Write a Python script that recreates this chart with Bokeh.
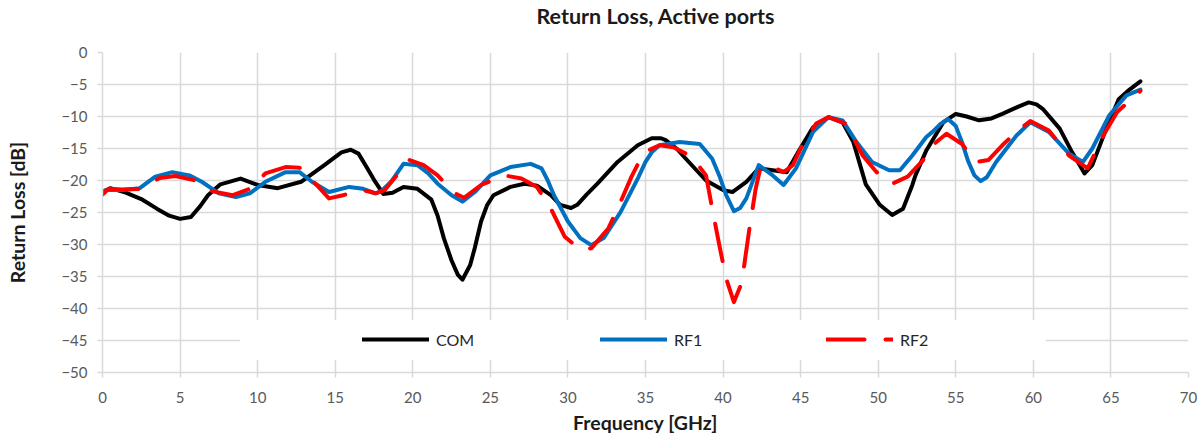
from bokeh.plotting import figure
from bokeh.models import (Range1d, FixedTicker, Legend, LegendItem, BoxAnnotation, Title)
from bokeh.embed import file_html
from bokeh.resources import INLINE

# ---------------- data ----------------
com_f = [0.0, 0.5, 1.5, 2.5, 3.5, 4.3, 5.0, 5.7, 6.3, 6.8, 7.6, 8.9, 10.0, 11.3, 12.8,
         14.3, 15.4, 16.0, 16.5, 17.0, 17.5, 18.1, 18.7, 19.4, 20.3, 21.2, 21.6, 22.0,
         22.5, 22.9, 23.2, 23.7, 24.0, 24.4, 24.8, 25.2, 26.3, 27.2, 28.0, 28.9, 29.5,
         30.2, 30.6, 31.2, 31.9, 33.2, 34.5, 35.4, 36.0, 36.3, 37.0, 37.6, 38.9, 40.0,
         40.6, 41.5, 42.3, 43.2, 44.1, 44.9, 45.8, 46.8, 47.7, 48.4, 49.2, 50.1, 50.9,
         51.6, 52.2, 52.4, 53.1, 54.2, 55.0, 55.7, 56.5, 57.3, 58.0, 59.0, 59.7, 60.2,
         60.6, 61.7, 62.5, 63.3, 63.8, 64.7, 65.5, 66.2, 66.9]
com_db = [-21.8, -21.2, -21.9, -22.9, -24.4, -25.5, -26.0, -25.7, -24.0, -22.3, -20.6,
          -19.7, -20.7, -21.2, -20.2, -17.6, -15.6, -15.2, -15.8, -17.8, -19.9, -22.1,
          -21.9, -21.0, -21.3, -23.0, -25.5, -29.0, -32.5, -34.7, -35.5, -33.2, -30.5,
          -26.4, -23.8, -22.3, -21.0, -20.5, -20.8, -22.3, -23.8, -24.3, -23.8, -22.2,
          -20.5, -17.1, -14.5, -13.4, -13.4, -13.7, -15.0, -16.6, -20.0, -21.5, -21.8,
          -20.2, -18.1, -18.4, -18.7, -15.3, -11.7, -10.1, -10.9, -14.0, -20.6, -23.8,
          -25.4, -24.4, -20.7, -19.2, -15.3, -10.9, -9.6, -10.0, -10.6, -10.3, -9.6,
          -8.5, -7.8, -8.1, -8.8, -11.9, -15.6, -18.9, -17.6, -11.9, -7.3, -5.8, -4.5]

rf1_f = [0.0, 0.2, 1.3, 2.4, 3.4, 4.5, 5.6, 6.4, 7.5, 8.6, 9.5, 10.5, 11.8, 12.7, 13.5,
         14.6, 15.9, 16.8, 17.6, 18.0, 18.6, 19.4, 20.3, 21.0, 21.6, 22.5, 23.2, 24.0,
         25.0, 26.3, 27.6, 28.3, 28.7, 29.1, 30.0, 30.8, 31.5, 32.3, 33.4, 34.5, 35.0,
         35.4, 35.9, 37.2, 38.5, 39.3, 39.8, 40.2, 40.7, 41.1, 41.5, 42.3, 43.2, 43.9,
         44.7, 45.8, 46.8, 47.7, 48.6, 49.6, 50.7, 51.4, 52.2, 53.1, 53.5, 54.0, 54.5,
         55.0, 55.4, 55.8, 56.2, 56.6, 57.0, 57.6, 58.9, 59.8, 61.0, 62.3, 63.2, 63.8,
         64.9, 66.0, 66.9]
rf1_db = [-21.7, -21.5, -21.5, -21.2, -19.4, -18.7, -19.2, -20.2, -22.0, -22.6, -22.0,
          -20.2, -18.7, -18.7, -20.2, -21.8, -21.0, -21.3, -22.0, -21.6, -20.2, -17.4,
          -17.6, -18.9, -20.5, -22.3, -23.3, -21.8, -19.2, -17.9, -17.4, -18.1, -20.0,
          -22.3, -26.4, -29.0, -30.1, -29.0, -24.9, -19.7, -17.1, -15.6, -14.5, -14.0,
          -14.3, -16.6, -19.5, -22.3, -24.8, -24.3, -22.8, -17.6, -19.2, -20.7, -18.1,
          -12.4, -10.1, -10.6, -14.0, -17.1, -18.4, -18.4, -16.1, -13.2, -12.4, -11.2,
          -10.4, -11.5, -14.0, -17.0, -19.2, -20.1, -19.5, -17.1, -13.0, -10.9, -12.4,
          -15.8, -17.1, -15.0, -9.8, -6.7, -5.8]

rf2_f = [0.0, 0.4, 1.3, 2.4, 3.7, 4.7, 6.0, 7.1, 8.4, 9.5, 10.5, 11.8, 12.7, 13.8, 14.6,
         15.5, 16.8, 17.6, 18.2, 18.8, 19.8, 20.7, 21.6, 22.7, 23.3, 24.4, 25.9, 27.0,
         28.0, 28.9, 29.8, 30.8, 31.5, 32.6, 33.2, 34.1, 34.9, 35.9, 36.8, 38.0, 38.9,
         39.3, 39.8, 40.2, 40.7, 41.2, 41.7, 42.1, 42.4, 43.2, 43.9, 44.5, 45.1, 46.0,
         46.8, 47.9, 49.0, 49.9, 50.9, 51.9, 52.9, 53.5, 54.4, 55.4, 56.3, 57.1, 58.0,
         58.9, 59.8, 61.0, 62.3, 63.5, 64.5, 65.4, 66.9]
rf2_db = [-22.2, -21.3, -21.4, -21.3, -19.6, -19.3, -20.0, -21.7, -22.3, -21.3, -18.9,
          -17.9, -18.0, -20.7, -22.8, -22.3, -21.5, -22.0, -21.5, -19.7, -16.8, -17.6,
          -19.2, -22.0, -22.7, -20.7, -19.2, -19.7, -21.0, -24.4, -28.8, -30.8, -30.6,
          -27.5, -24.4, -19.4, -15.6, -14.5, -14.8, -16.3, -19.2, -24.4, -30.6, -35.3,
          -39.0, -36.0, -27.5, -21.3, -18.1, -17.9, -18.7, -17.6, -14.5, -11.1, -10.1,
          -11.1, -16.1, -18.7, -20.5, -19.4, -16.8, -14.5, -12.7, -14.3, -17.1, -16.8,
          -14.5, -12.4, -10.7, -12.2, -16.1, -18.1, -13.0, -9.3, -6.0]

series_names = ["COM", "RF1", "RF2"]
x_ticks = list(range(0, 75, 5))
y_ticks = list(range(-50, 5, 5))
chart_title = "Return Loss, Active ports"

FONT = "Lato"
GRID = "#d9d9d9"

p = figure(width=1198, height=436, output_backend="svg", toolbar_location=None,
           x_range=Range1d(0, 70), y_range=Range1d(-50, 0),
           min_border_left=102, min_border_right=10, min_border_top=50, min_border_bottom=64)
p.outline_line_color = None
p.background_fill_color = "white"

# spacer between frame and title, then the title itself (stacked outward)
p.add_layout(Title(text=" ", text_font=FONT, text_font_size="10px", standoff=10), "above")
p.add_layout(Title(text=chart_title, align="left", offset=434, standoff=0,
                   vertical_align="bottom", text_font=FONT, text_font_size="21.5px",
                   text_font_style="bold", text_color="#1a1a1a"), "above")

for ax in (p.xaxis[0], p.yaxis[0]):
    ax.axis_line_color = GRID
    ax.axis_line_width = 1.5
    ax.major_tick_line_color = GRID
    ax.major_tick_line_width = 1.5
    ax.major_tick_out = 5
    ax.major_tick_in = 0
    ax.minor_tick_line_color = None
    ax.major_label_text_font = FONT
    ax.major_label_text_font_size = "15px"
    ax.major_label_text_color = "#595959"
    ax.axis_label_text_font = FONT
    ax.axis_label_text_font_size = "19.5px"
    ax.axis_label_text_font_style = "bold"
    ax.axis_label_text_color = "#1a1a1a"

p.xaxis.ticker = FixedTicker(ticks=x_ticks)
p.yaxis.ticker = FixedTicker(ticks=y_ticks)
p.xaxis.axis_label = "Frequency [GHz]"
p.yaxis.axis_label = "Return Loss [dB]"
p.xaxis.major_label_standoff = 14
p.yaxis.major_label_standoff = 10
p.xaxis.axis_label_standoff = 5
p.yaxis.axis_label_standoff = 29

p.xgrid.ticker = FixedTicker(ticks=x_ticks)
p.ygrid.ticker = FixedTicker(ticks=y_ticks)
for g in (p.xgrid[0], p.ygrid[0]):
    g.grid_line_color = GRID
    g.grid_line_width = 1.5

r_com = p.line(com_f, com_db, line_color="black", line_width=4, line_join="round", line_cap="round")
r_rf1 = p.line(rf1_f, rf1_db, line_color="#0070C0", line_width=4, line_join="round", line_cap="round")
r_rf2 = p.line(rf2_f, rf2_db, line_color="#FF0000", line_width=4, line_join="round", line_cap="round",
               line_dash="38 21")

# white legend backdrop
p.add_layout(BoxAnnotation(left=8.85, right=60.8, bottom=-48.05, top=-41.8,
                           fill_color="white", fill_alpha=1.0, line_alpha=0))

for name, rend, xloc in zip(series_names, [r_com, r_rf1, r_rf2], [260, 498, 724]):
    leg = Legend(items=[LegendItem(label=name, renderers=[rend])], location=(xloc, 23),
                 orientation="horizontal", background_fill_alpha=0, border_line_alpha=0,
                 padding=0, margin=0, glyph_width=67, glyph_height=20, label_standoff=7,
                 label_text_font=FONT, label_text_font_size="16px", label_text_color="#262626")
    p.add_layout(leg)

open("out.html", "w").write(file_html(p, INLINE))
